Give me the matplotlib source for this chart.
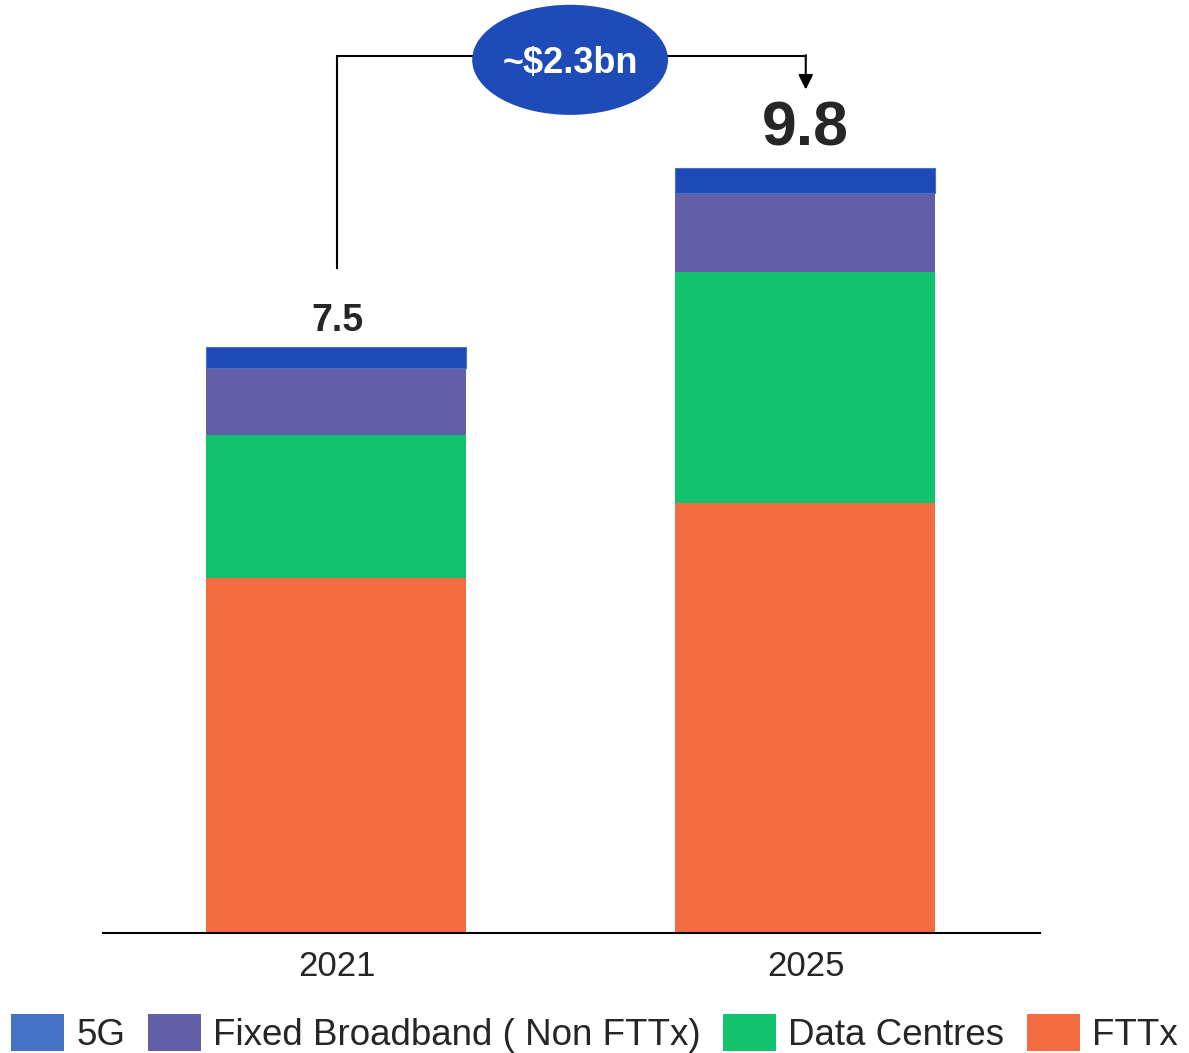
import matplotlib as mpl
mpl.use("Agg")
import matplotlib.pyplot as plt
from matplotlib.patches import Patch, Ellipse
import numpy as np

plt.rcParams['font.family'] = ['Liberation Sans', 'DejaVu Sans']

years = ["2021", "2025"]
series = ["5G", "Fixed Broadband ( Non FTTx)", "Data Centres", "FTTx"]
fttx = [4.55, 5.51]
data_centres = [1.83, 2.95]
fixed_bb = [0.85, 1.01]
g5 = [0.27, 0.33]
totals = ["7.5", "9.8"]
growth_label = "~$2.3bn"

c_fttx = "#F26C40"
c_dc = "#13C26C"
c_fbb = "#625EA8"
c_5g = "#1E4AB8"
c_5g_leg = "#4472C4"
text_col = "#262626"

fig = plt.figure(figsize=(11.89, 10.53), dpi=100)
ax = fig.add_axes([103 / 1189, 120 / 1053, 937 / 1189, 933 / 1053])

x = np.arange(len(years))
w = 0.555
bottom = np.zeros(len(years))
for vals, col in [(fttx, c_fttx), (data_centres, c_dc), (fixed_bb, c_fbb)]:
    ax.bar(x - 0.002, vals, w, bottom=bottom, color=col, linewidth=0)
    bottom += np.array(vals)
ax.bar(x - 0.002, g5, w, bottom=bottom, color=c_5g, edgecolor=c_5g_leg, linewidth=0.8)
bottom += np.array(g5)

ax.set_xlim(-0.5, 1.5)
ax.set_ylim(0, 933 / 78.1)

# total labels
ax.text(x[0], bottom[0] + 0.1, totals[0], ha="center", va="bottom",
        fontsize=27, fontweight="bold", color=text_col)
ax.text(x[1], bottom[1] + 0.12, totals[1], ha="center", va="bottom",
        fontsize=45, fontweight="bold", color=text_col)

# growth connector
y_top = 11.23
ax.plot([x[0], x[0], x[1]], [8.51, y_top, y_top], color="black", lw=1.5,
        clip_on=False, solid_joinstyle="miter")
ax.annotate("", xy=(x[1], 10.8), xytext=(x[1], y_top + 0.01),
            arrowprops=dict(arrowstyle="-|>", color="black", lw=1.5,
                            mutation_scale=22, shrinkA=0, shrinkB=0),
            annotation_clip=False)
ell = Ellipse((0.497, 11.18), 0.418, 1.41, facecolor="#1F4BB8",
              edgecolor="none", clip_on=False, zorder=5)
ax.add_patch(ell)
ax.text(0.497, 11.13, growth_label, ha="center", va="center", fontsize=26,
        fontweight="bold", color="white", zorder=6)

for s in ["top", "right", "left"]:
    ax.spines[s].set_visible(False)
ax.spines["bottom"].set_linewidth(1.5)
ax.set_yticks([])
ax.set_xticks(x)
ax.set_xticklabels(years, fontsize=25, color=text_col)
ax.tick_params(axis="x", length=0, pad=12)

handles = [Patch(facecolor=c) for c in [c_5g_leg, c_fbb, c_dc, c_fttx]]
fig.legend(handles, series, loc="lower center", bbox_to_anchor=(0.5, -0.014),
           ncol=4, frameon=False, fontsize=26.5, handlelength=1.45,
           handleheight=1.15, handletextpad=0.33, columnspacing=0.6,
           labelcolor=text_col, borderaxespad=0.0)

plt.savefig("out.png", dpi=100)
